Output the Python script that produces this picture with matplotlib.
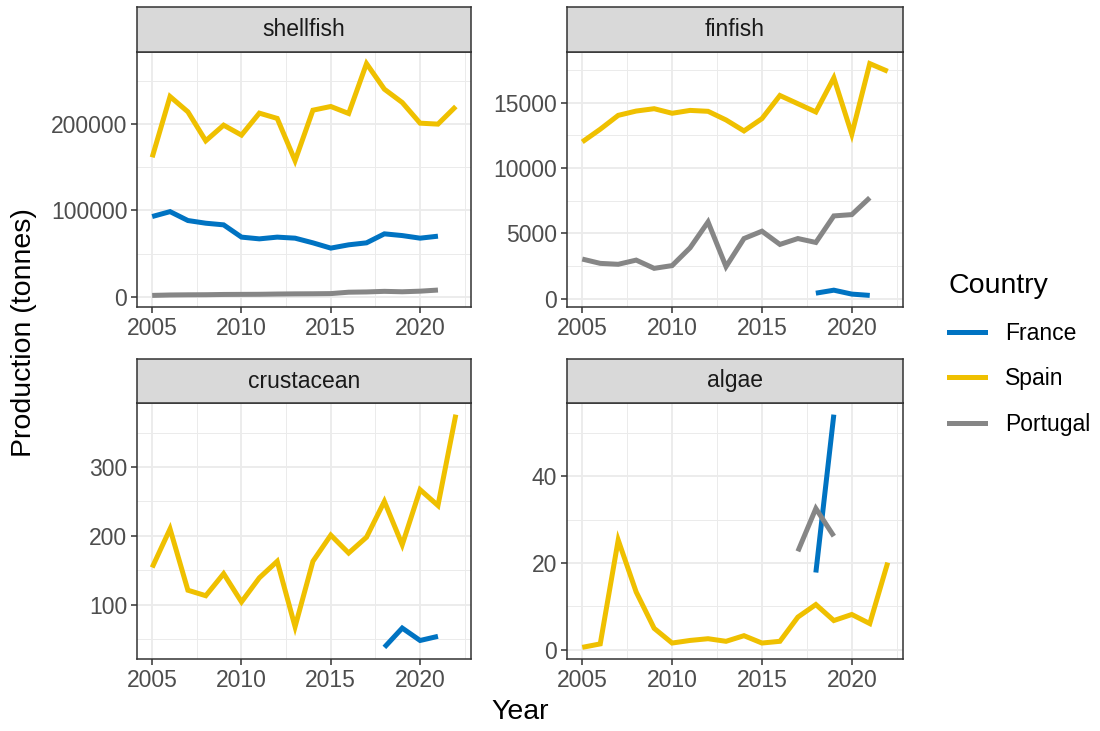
import matplotlib
matplotlib.use("Agg")
import matplotlib.pyplot as plt
from matplotlib.lines import Line2D

plt.rcParams['font.family'] = ['Liberation Sans', 'DejaVu Sans']

# colours (ggsci jco style)
colors = {'France': '#0073C2', 'Spain': '#EFC000', 'Portugal': '#868686'}
countries = ['France', 'Spain', 'Portugal']

years_all = list(range(2005, 2023))
years_to2021 = list(range(2005, 2022))

# shellfish
shell_spain = [161500, 231800, 214100, 180600, 198700, 187200, 212600, 206500, 157600,
               216000, 220300, 212200, 269900, 240300, 224900, 201000, 199900, 220300]
shell_france = [93000, 98700, 88400, 85300, 83400, 69200, 67200, 69200, 68000,
                62600, 56500, 60300, 62600, 73000, 71000, 68000, 70300]
shell_portugal = [1800, 2300, 2500, 2600, 2900, 3000, 3100, 3400, 3600,
                  3700, 3900, 5500, 5800, 6500, 6000, 6700, 8000]

# finfish
fin_spain = [12000, 12970, 14030, 14360, 14540, 14190, 14410, 14340, 13680,
             12840, 13780, 15550, 14920, 14290, 16900, 12590, 17990, 17400]
fin_portugal = [3040, 2710, 2640, 2960, 2330, 2540, 3900, 5880, 2460,
                4610, 5170, 4160, 4610, 4310, 6340, 6440, 7730]
fin_france_years = [2018, 2019, 2020, 2021]
fin_france = [430, 660, 360, 260]

# crustacean
crus_spain = [154, 210, 121, 113, 145, 104, 139, 163, 68,
              163, 201, 175, 198, 250, 187, 267, 244, 376]
crus_france_years = [2018, 2019, 2020, 2021]
crus_france = [38, 66, 48, 54]

# algae
algae_spain = [0.5, 1.3, 25.3, 13.3, 4.9, 1.5, 2.1, 2.5, 1.9,
               3.2, 1.5, 1.9, 7.5, 10.4, 6.7, 8.1, 6.0, 20.1]
algae_france_years = [2018, 2019]
algae_france = [17.8, 54.3]
algae_portugal_years = [2017, 2018, 2019]
algae_portugal = [22.7, 32.6, 26.2]

panels = [
    ('shellfish', [('France', years_to2021, shell_france),
                   ('Spain', years_all, shell_spain),
                   ('Portugal', years_to2021, shell_portugal)],
     [0, 100000, 200000], [50000, 150000, 250000]),
    ('finfish', [('France', fin_france_years, fin_france),
                 ('Spain', years_all, fin_spain),
                 ('Portugal', years_to2021, fin_portugal)],
     [0, 5000, 10000, 15000], [2500, 7500, 12500, 17500]),
    ('crustacean', [('France', crus_france_years, crus_france),
                    ('Spain', years_all, crus_spain)],
     [100, 200, 300], [50, 150, 250, 350]),
    ('algae', [('France', algae_france_years, algae_france),
               ('Spain', years_all, algae_spain),
               ('Portugal', algae_portugal_years, algae_portugal)],
     [0, 20, 40], [10, 30, 50]),
]

W, H = 1100, 731
fig = plt.figure(figsize=(W / 100, H / 100), dpi=100)
fig.patch.set_facecolor('white')


def rect(l, t, r, b):
    return [l / W, 1 - b / H, (r - l) / W, (b - t) / H]


# pixel boxes: (left, right) per column, (strip top, strip bottom, axes bottom) per row
cols = [(137, 471), (567, 903)]
rows = [(7, 52, 307), (359, 403, 659)]

tick_col = '#4D4D4D'
border = '#333333'
grid_col = '#EBEBEB'

for i, (name, series, majors, minors) in enumerate(panels):
    l, r = cols[i % 2]
    st, sb, ab = rows[i // 2]
    ax = fig.add_axes(rect(l, sb, r, ab))
    for country, xs, ys in series:
        ax.plot(xs, ys, color=colors[country], lw=3.6, solid_capstyle='butt',
                solid_joinstyle='miter', zorder=3)
    allv = [v for _, _, ys in series for v in ys]
    lo, hi = min(allv), max(allv)
    pad = 0.05 * (hi - lo)
    ax.set_ylim(lo - pad, hi + pad)
    ax.set_xlim(2005 - 0.05 * 17, 2022 + 0.05 * 17)
    ax.set_xticks([2005, 2010, 2015, 2020])
    ax.set_xticks([2007.5, 2012.5, 2017.5, 2022.5], minor=True)
    ax.set_yticks(majors)
    ax.set_yticks(minors, minor=True)
    ax.grid(True, which='major', color=grid_col, lw=1.3, zorder=0)
    ax.grid(True, which='minor', color=grid_col, lw=0.7, zorder=0)
    ax.set_axisbelow(True)
    ax.tick_params(which='major', direction='out', length=4, width=1.1,
                   color=border, labelcolor=tick_col, labelsize=16.5, pad=3)
    ax.tick_params(which='minor', length=0)
    for sp in ax.spines.values():
        sp.set_color(border)
        sp.set_linewidth(1.1)
    # strip
    sax = fig.add_axes(rect(l, st, r, sb))
    sax.set_facecolor('#D9D9D9')
    sax.set_xticks([])
    sax.set_yticks([])
    for sp in sax.spines.values():
        sp.set_color(border)
        sp.set_linewidth(1.1)
    sax.text(0.5, 0.5, name, ha='center', va='center', fontsize=16.5,
             color='#1A1A1A', transform=sax.transAxes)

fig.text(520 / W, 1 - 712 / H, 'Year', ha='center', va='center', fontsize=20.5)
fig.text(24 / W, 1 - 333 / H, 'Production (tonnes)', ha='center', va='center',
         fontsize=20.5, rotation=90)

handles = [Line2D([], [], color=colors[c], lw=3.6) for c in countries]
leg = fig.legend(handles, countries, title='Country', loc='upper left',
                 bbox_to_anchor=(928 / W, 1 - 252 / H), frameon=False,
                 fontsize=16.5, title_fontsize=20.5, handlelength=1.6,
                 handletextpad=0.85, labelspacing=1.0)
leg._legend_box.align = 'left'

fig.savefig('out.png', dpi=100, facecolor='white')
